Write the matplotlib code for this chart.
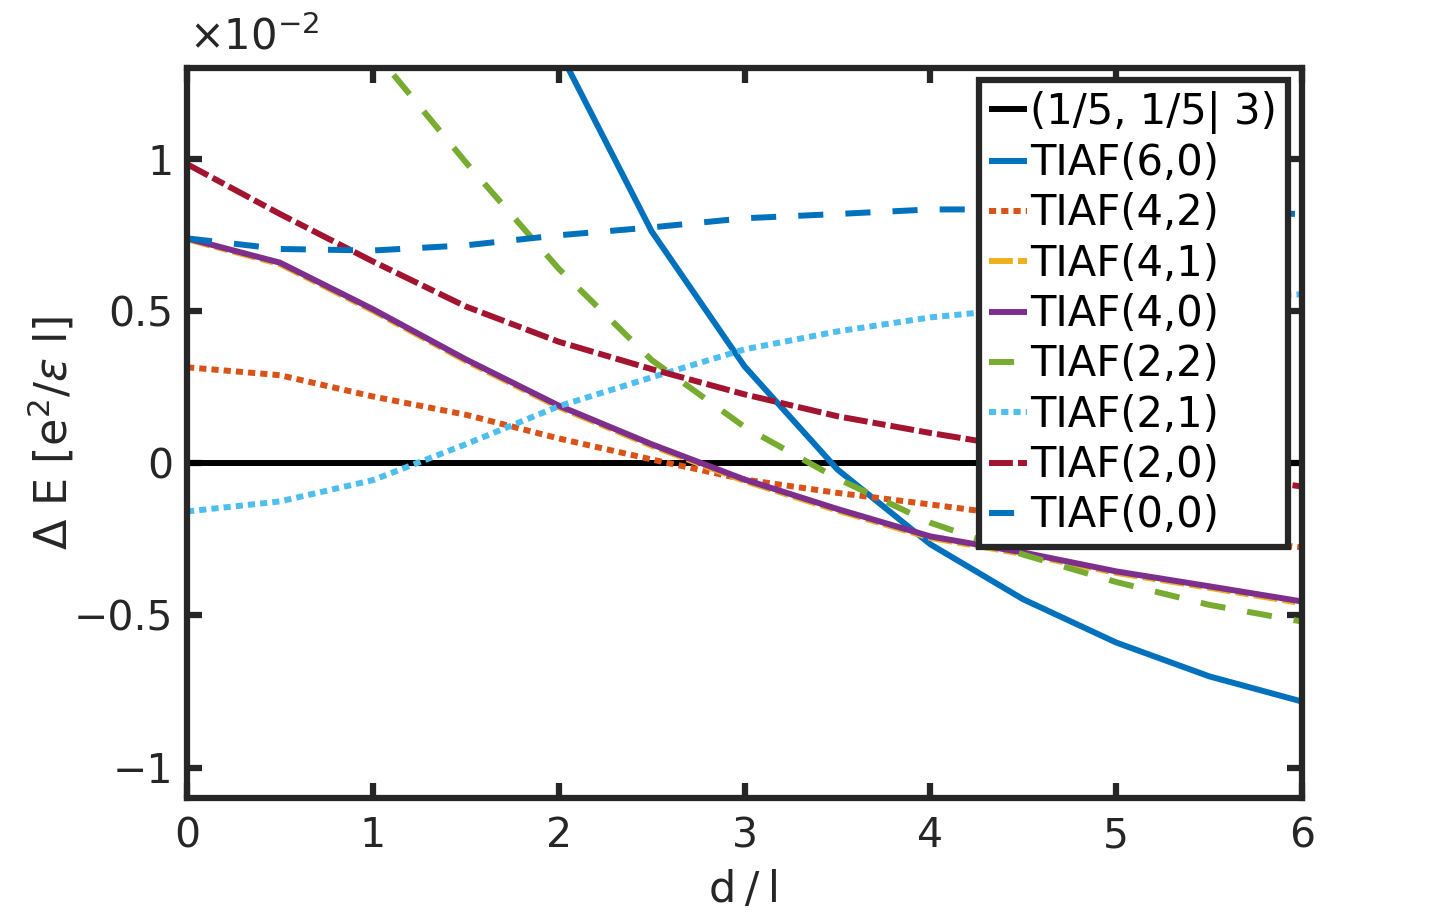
"""
Energy gap vs layer separation for TIAF states, values in units of 1e-2 e^2/(eps l).
"""

import matplotlib

matplotlib.use("Agg")
import matplotlib.pyplot as plt

d_over_l = [0, 0.5, 1, 1.5, 2, 2.5, 3, 3.5, 4, 4.5, 5, 5.5, 6]

ref_state = [0] * 13
tiaf_60 = [3.6, 3.0, 2.45, 1.9, 1.36, 0.763, 0.319, -0.02, -0.266, -0.447, -0.589, -0.70, -0.783]
tiaf_42 = [0.316, 0.29, 0.22, 0.16, 0.082, 0.013, -0.053, -0.097, -0.135, -0.175, -0.21, -0.245, -0.276]
tiaf_41 = [0.737, 0.655, 0.502, 0.337, 0.185, 0.058, -0.058, -0.155, -0.245, -0.298, -0.36, -0.409, -0.46]
tiaf_40 = [0.74, 0.66, 0.507, 0.342, 0.19, 0.063, -0.053, -0.15, -0.24, -0.293, -0.355, -0.404, -0.454]
tiaf_22 = [2.3, 1.8, 1.36, 0.99, 0.64, 0.34, 0.12, -0.05, -0.195, -0.30, -0.39, -0.465, -0.52]
tiaf_21 = [-0.158, -0.125, -0.055, 0.063, 0.188, 0.283, 0.375, 0.434, 0.48, 0.51, 0.53, 0.545, 0.556]
tiaf_20 = [0.984, 0.82, 0.664, 0.516, 0.40, 0.31, 0.227, 0.155, 0.10, 0.05, 0.01, -0.035, -0.076]
tiaf_00 = [0.74, 0.705, 0.70, 0.717, 0.75, 0.776, 0.806, 0.82, 0.835, 0.835, 0.83, 0.825, 0.82]

labels = ["(1/5, 1/5| 3)", "TIAF(6,0)", "TIAF(4,2)", "TIAF(4,1)", "TIAF(4,0)",
          "TIAF(2,2)", "TIAF(2,1)", "TIAF(2,0)", "TIAF(0,0)"]

EDGE = "#262626"
LW = 4.3
FRAME_LW = 4.5


def main():
    fig = plt.figure(figsize=(14.4, 9.19), dpi=100)
    ax = fig.add_axes([0.1299, 0.1317, 0.7743, 0.7943])

    series = [ref_state, tiaf_60, tiaf_42, tiaf_41, tiaf_40, tiaf_22, tiaf_21, tiaf_20, tiaf_00]
    colors = ["black", "#0072BD", "#D95319", "#EDB120", "#7E2F8E",
              "#77AC30", "#4DBEEE", "#A2142F", "#0072BD"]
    # dash patterns in units of line width
    dashdot = (4.0, 0.85, 2.2, 0.85)
    dashes = [None, None, (1.2, 0.85), dashdot, None,
              (4.2, 3.7), (1.2, 0.85), dashdot, (4.2, 3.7)]

    for vals, c, ds, lab in zip(series, colors, dashes, labels):
        line, = ax.plot(d_over_l, vals, color=c, lw=LW, label=lab, solid_capstyle="butt")
        if ds is not None:
            line.set_dashes(ds)
            line.set_dash_capstyle("butt")

    ax.set_xlim(0, 6)
    ax.set_ylim(-1.1, 1.3)
    ax.set_xticks(range(7))
    ax.set_yticks([-1, -0.5, 0, 0.5, 1])
    ax.set_yticklabels(["\u22121", "\u22120.5", "0", "0.5", "1"])

    for sp in ax.spines.values():
        sp.set_linewidth(FRAME_LW)
        sp.set_color(EDGE)
    ax.tick_params(direction="in", length=11, width=FRAME_LW, color=EDGE,
                   labelsize=29.5, labelcolor=EDGE, top=True, right=True)
    ax.tick_params(axis="x", pad=13)
    ax.tick_params(axis="y", pad=10)

    ax.set_xlabel("d\u2009/\u2009l", fontsize=31, color=EDGE, labelpad=9)
    ax.set_ylabel(r"$\Delta$ E [e$^2$/$\varepsilon$ l]", fontsize=32, color=EDGE, labelpad=-2)

    fig.text(0.131, 0.936, r"$\times 10^{-2}$", fontsize=30, color=EDGE, ha="left", va="bottom")

    leg = ax.legend(loc="upper right", bbox_to_anchor=(0.9874, 0.9836), borderaxespad=0,
                    fontsize=30, handlelength=0.9, handletextpad=0.08, labelspacing=0.2,
                    borderpad=0.26, fancybox=False, framealpha=1)
    leg.get_frame().set_linewidth(FRAME_LW)
    leg.get_frame().set_edgecolor(EDGE)

    fig.savefig("out.png", dpi=100)
    plt.close()


if __name__ == "__main__":
    main()
